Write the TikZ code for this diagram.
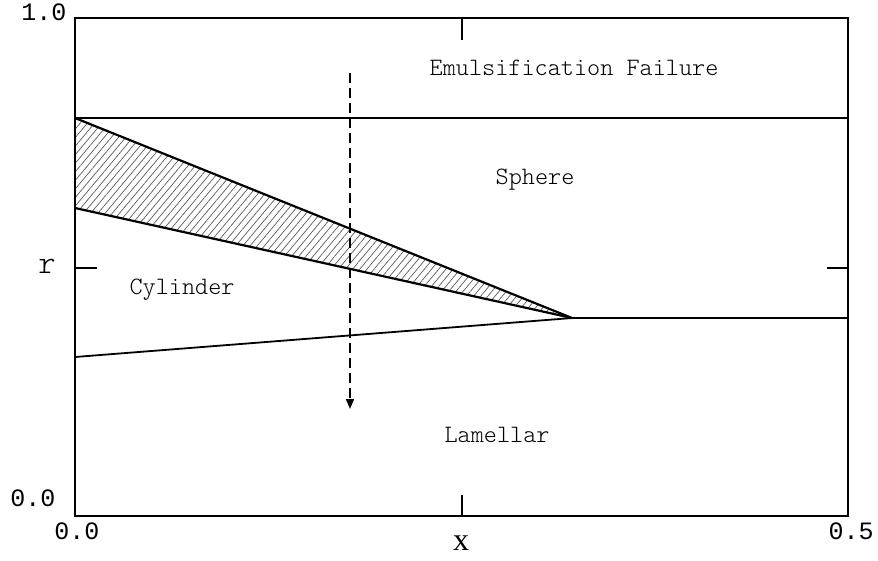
\documentclass[tikz,border=0pt]{standalone}
\usepackage{fontspec}
\setmainfont{Liberation Serif}
\newfontfamily\monofnt{Liberation Mono}
\newfontfamily\lightmono{Latin Modern Mono Light}
\usetikzlibrary{patterns.meta,arrows.meta}
\begin{document}
\begin{tikzpicture}[x=1pt,y=-1pt,
  frame/.style={line width=1.8pt},
  bound/.style={line width=2.2pt},
  regionlabel/.style={font=\lightmono\fontsize{25}{28}\selectfont, inner sep=0pt},
  ticklabel/.style={font=\monofnt\fontsize{25}{28}\selectfont, inner sep=0pt},
  axislabel/.style={inner sep=0pt},
  dasharrow/.style={line width=1.5pt, dash pattern=on 10pt off 5pt, -{Triangle[length=10pt,width=8pt]}}]
\useasboundingbox (0,0) rectangle (878,561);
% frame corners
\coordinate (BL) at (75,516);
\coordinate (TR) at (848,18);
\coordinate (UL) at (75,118);
\coordinate (UR) at (848,118);
\coordinate (ML) at (75,208);
\coordinate (TIP) at (572,318);
\coordinate (LR) at (848,318);
\coordinate (LL) at (75,357);
% hatched region
\fill[pattern={Lines[angle=50,distance=5.5pt,line width=0.7pt]},pattern color=black!65] (UL) -- (TIP) -- (ML) -- cycle;
\draw[frame] (BL) rectangle (TR);
\draw[frame] (UL) -- (UR);
\draw[bound] (UL) -- (TIP);
\draw[bound] (ML) -- (TIP);
\draw[frame] (LL) -- (TIP) -- (LR);
% ticks
\coordinate (tl1) at (75,268); \coordinate (tl2) at (97,268);
\coordinate (tr1) at (848,268); \coordinate (tr2) at (827,268);
\coordinate (tt1) at (462,18); \coordinate (tt2) at (462,40);
\coordinate (tb1) at (462,516); \coordinate (tb2) at (462,495);
\draw[frame] (tl1) -- (tl2);
\draw[frame] (tr1) -- (tr2);
\draw[frame] (tt1) -- (tt2);
\draw[frame] (tb1) -- (tb2);
% dashed arrow
\coordinate (a1) at (350,73);
\coordinate (a2) at (350,409);
\draw[dasharrow] (a1) -- (a2);
% labels
\node[regionlabel] (ef) at (574,68) {Emulsification Failure};
\node[regionlabel] (sp) at (535,180) {Sphere};
\node[regionlabel] (cy) at (182,290) {Cylinder};
\node[regionlabel] (la) at (497,435) {Lamellar};
\node[ticklabel] (y1) at (44,12) {1.0};
\node[ticklabel] (y0) at (33,498) {0.0};
\node[ticklabel] (x0) at (77,531) {0.0};
\node[ticklabel] (x5) at (851,531) {0.5};
\node[font=\lightmono\fontsize{33}{36}\selectfont, inner sep=0pt] (rl) at (47,266) {r};
\node[axislabel, font=\fontsize{32}{36}\selectfont] (xl) at (461,543) {x};
\end{tikzpicture}
\end{document}
